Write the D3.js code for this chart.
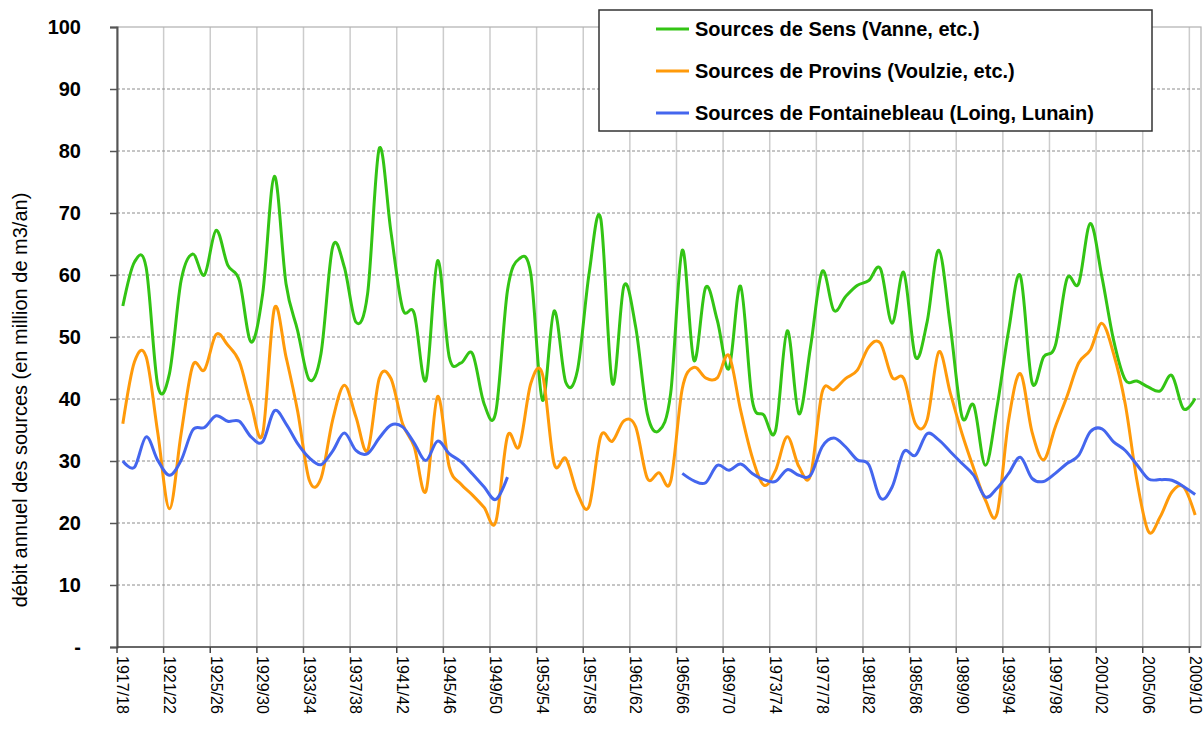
<!DOCTYPE html>
<html>
<head>
<meta charset="utf-8">
<script src="https://cdn.jsdelivr.net/npm/d3@7"></script>
<style>
  body { margin: 0; background: #fff; }
  svg { display: block; font-family: "Liberation Sans", Arial, sans-serif; }
</style>
</head>
<body>
<svg id="chart" width="1203" height="731"></svg>
<script>
// Hydrological years 1917/18 .. 2009/10
const categories = d3.range(1917, 2010).map(y => y + "/" + String((y + 1) % 100).padStart(2, "0"));
// One label every four years
const tickLabels = categories.filter((d, i) => i % 4 === 0);
const yTicks = [0, 10, 20, 30, 40, 50, 60, 70, 80, 90, 100];
const yTickText = ["-", "10", "20", "30", "40", "50", "60", "70", "80", "90", "100"];

// Annual yield, million m3 per year
const sens = [
  55.0, 62.1, 61.2, 42.2, 44.1, 59.1, 63.4, 60.0, 67.2, 61.6,
  59.1, 49.2, 57.0, 75.9, 58.6, 51.0, 43.1, 47.3, 64.5, 61.3,
  52.4, 57.0, 80.4, 67.0, 54.6, 53.8, 43.0, 62.3, 46.8, 45.8,
  47.3, 39.2, 37.9, 57.5, 62.6, 60.2, 39.8, 54.2, 42.7, 44.6,
  60.2, 69.1, 42.5, 58.3, 51.6, 37.6, 34.9, 40.9, 64.0, 46.2,
  58.0, 52.7, 44.9, 58.2, 39.8, 37.4, 34.9, 51.0, 37.6, 48.4,
  60.6, 54.3, 56.5, 58.3, 59.1, 61.0, 52.2, 60.4, 46.8, 52.4,
  64.0, 51.6, 37.1, 39.0, 29.3, 38.7, 51.1, 59.9, 42.7, 46.8,
  48.6, 59.4, 58.6, 68.3, 59.7, 49.5, 43.1, 42.9, 41.9, 41.3,
  43.8, 38.4, 40.1
];
const provins = [
  36.0, 46.0, 46.8, 34.5, 22.3, 34.4, 45.4, 44.7, 50.4, 48.7,
  46.0, 39.2, 34.4, 54.6, 46.8, 38.0, 26.9, 27.2, 36.6, 42.2,
  37.1, 31.7, 43.3, 43.3, 36.0, 32.3, 25.1, 40.4, 29.1, 26.3,
  24.5, 22.5, 20.2, 34.0, 32.3, 42.5, 44.0, 29.6, 30.4, 24.8,
  22.7, 34.0, 33.2, 36.5, 35.5, 27.2, 28.1, 26.7, 41.7, 45.1,
  43.4, 43.4, 47.0, 38.2, 30.6, 26.1, 28.5, 33.9, 29.1, 27.7,
  41.1, 41.5, 43.3, 44.6, 48.4, 49.0, 43.5, 43.3, 36.0, 36.6,
  47.6, 40.9, 34.4, 28.8, 23.7, 21.5, 36.6, 44.1, 34.7, 30.2,
  35.5, 40.4, 45.8, 47.9, 52.2, 47.3, 39.2, 26.9, 18.6, 21.0,
  25.0, 25.8, 21.3
];
// No data from 1951/52 to 1964/65
const fontainebleau = [
  30.0, 29.0, 33.9, 30.1, 27.7, 30.1, 35.0, 35.4, 37.3, 36.4,
  36.4, 33.9, 33.1, 38.1, 36.0, 32.8, 30.5, 29.4, 31.6, 34.5,
  31.7, 31.2, 33.7, 35.8, 35.5, 32.9, 30.1, 33.2, 31.2, 29.9,
  27.9, 25.8, 23.8, 27.4, null, null, null, null, null, null,
  null, null, null, null, null, null, null, null, 28.0, 26.8,
  26.5, 29.3, 28.5, 29.5, 28.0, 27.0, 26.7, 28.6, 27.7, 27.7,
  32.3, 33.7, 32.3, 30.2, 29.4, 24.0, 25.8, 31.5, 30.9, 34.4,
  33.4, 31.5, 29.6, 27.7, 24.2, 25.6, 28.0, 30.6, 27.2, 26.7,
  28.0, 29.6, 30.9, 34.7, 35.2, 33.1, 31.7, 29.4, 27.1, 27.0,
  26.9, 25.9, 24.6
];

const seriesNames = ["Sources de Sens (Vanne, etc.)", "Sources de Provins (Voulzie, etc.)", "Sources de Fontainebleau (Loing, Lunain)"];
const seriesColors = ["#33c414", "#ff9a0a", "#4466ee"];
const seriesValues = [sens, provins, fontainebleau];

const svg = d3.select("#chart");
const plot = { left: 117, right: 1201, top: 27, bottom: 647 };

const x = d3.scaleBand().domain(categories).range([plot.left, plot.right]).padding(0);
const y = d3.scaleLinear().domain([0, 100]).range([plot.bottom, plot.top]);
const bw = x.bandwidth();

// Vertical grid at each labelled category boundary
svg.append("g").selectAll("line").data(tickLabels).join("line")
  .attr("x1", d => x(d)).attr("x2", d => x(d))
  .attr("y1", plot.top).attr("y2", plot.bottom)
  .attr("stroke", "#cccccc").attr("stroke-width", 1.5);

// Horizontal dashed grid
svg.append("g").selectAll("line").data(yTicks.filter(v => v > 0 && v < 100)).join("line")
  .attr("x1", plot.left).attr("x2", plot.right)
  .attr("y1", d => y(d)).attr("y2", d => y(d))
  .attr("stroke", "#8c8c8c").attr("stroke-width", 1).attr("stroke-dasharray", "3,2");

// Plot area frame
svg.append("rect")
  .attr("x", plot.left).attr("y", plot.top)
  .attr("width", plot.right - plot.left).attr("height", plot.bottom - plot.top)
  .attr("fill", "none").attr("stroke", "#b0b0b0").attr("stroke-width", 1.2);

// Y axis
const yAxis = d3.axisLeft(y).tickValues(yTicks).tickSize(7).tickPadding(30)
  .tickFormat((d, i) => yTickText[i]);
const gy = svg.append("g").attr("transform", `translate(${plot.left},0)`).call(yAxis);
gy.select(".domain").attr("stroke", "#555").attr("stroke-width", 2);
gy.selectAll(".tick line").attr("stroke", "#555").attr("stroke-width", 1.5);
gy.selectAll(".tick text")
  .attr("x", -36)
  .attr("font-size", 20).attr("font-weight", "bold").attr("fill", "#000")
  .attr("font-family", "Liberation Sans, Arial, sans-serif");

// X axis
const gx = svg.append("g");
gx.append("line")
  .attr("x1", plot.left).attr("x2", plot.right)
  .attr("y1", plot.bottom).attr("y2", plot.bottom)
  .attr("stroke", "#444").attr("stroke-width", 1.5);
gx.selectAll(".xt").data(tickLabels).join("line").attr("class", "xt")
  .attr("x1", d => x(d)).attr("x2", d => x(d))
  .attr("y1", plot.bottom).attr("y2", plot.bottom + 6)
  .attr("stroke", "#444").attr("stroke-width", 1.5);
gx.selectAll("text").data(tickLabels).join("text")
  .attr("transform", d => `translate(${x(d) + bw / 2},${plot.bottom + 9}) rotate(90)`)
  .attr("text-anchor", "start").attr("dominant-baseline", "central")
  .attr("font-size", 16).attr("fill", "#000")
  .text(d => d);

// Y axis title
svg.append("text")
  .attr("transform", "translate(20,400) rotate(-90)")
  .attr("text-anchor", "middle").attr("dominant-baseline", "central")
  .attr("font-size", 20).attr("fill", "#000")
  .text("débit annuel des sources (en million de m3/an)");

// Smoothed series lines
const line = d3.line()
  .defined(d => d.v !== null)
  .x(d => x(d.c) + bw / 2)
  .y(d => y(d.v))
  .curve(d3.curveCatmullRom.alpha(0));

seriesValues.forEach((vals, k) => {
  svg.append("path")
    .datum(categories.map((c, i) => ({ c, v: vals[i] })))
    .attr("fill", "none")
    .attr("stroke", seriesColors[k])
    .attr("stroke-width", 3)
    .attr("stroke-linejoin", "round")
    .attr("d", line);
});

// Legend
const legend = svg.append("g");
legend.append("rect")
  .attr("x", 599).attr("y", 10).attr("width", 553).attr("height", 121)
  .attr("fill", "#fff").attr("stroke", "#333").attr("stroke-width", 1.5);
const legendRows = [29, 71, 113];
seriesNames.forEach((name, k) => {
  legend.append("line")
    .attr("x1", 656).attr("x2", 689)
    .attr("y1", legendRows[k]).attr("y2", legendRows[k])
    .attr("stroke", seriesColors[k]).attr("stroke-width", 3);
  legend.append("text")
    .attr("x", 695).attr("y", legendRows[k])
    .attr("dominant-baseline", "central")
    .attr("font-size", 20).attr("font-weight", "bold").attr("fill", "#000")
    .text(name);
});
</script>
</body>
</html>
